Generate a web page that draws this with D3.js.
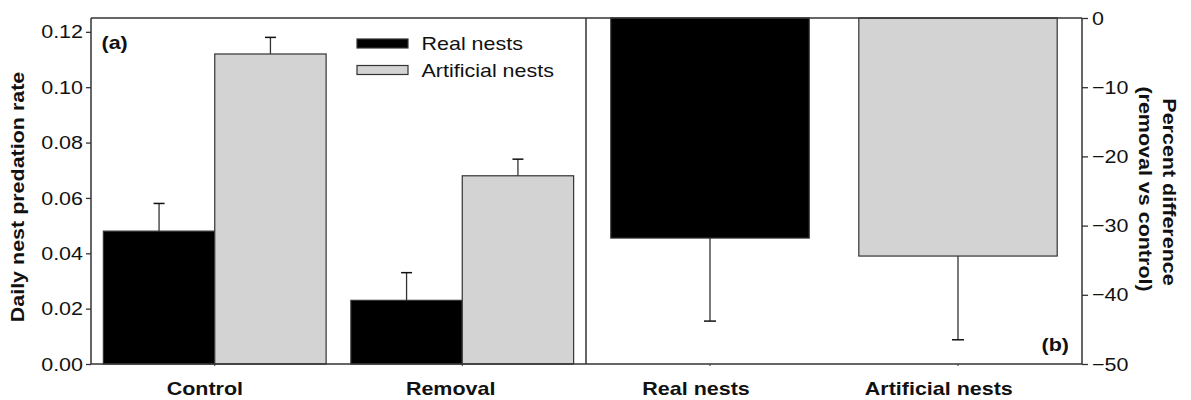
<!DOCTYPE html>
<html>
<head>
<meta charset="utf-8">
<script src="https://cdn.jsdelivr.net/npm/d3@7"></script>
<style>
  body { margin: 0; background: #fff; }
  svg { display: block; font-family: Arial, "Liberation Sans", sans-serif; }
</style>
</head>
<body>
<svg id="chart" width="1191" height="400"></svg>
<script>
// ---- Data ----
const groupsA = ["Control", "Removal"];
const seriesNames = ["Real nests", "Artificial nests"];
const realRate = [0.048, 0.023];
const realRateSE = [0.010, 0.010];
const artRate = [0.112, 0.068];
const artRateSE = [0.006, 0.006];
const yTicksA = [0.00, 0.02, 0.04, 0.06, 0.08, 0.10, 0.12];

const categoriesB = ["Real nests", "Artificial nests"];
const pctDiff = [-31.8, -34.4];
const pctDiffSE = [12.0, 12.1];
const yTicksB = [0, -10, -20, -30, -40, -50];

const colors = ["#000000", "#d3d3d3"];
const strokeCol = "#333";
const FS = 19;          // base font size
const STRETCH = 1.13;   // horizontal widening of glyphs

const svg = d3.select("#chart");
const yTop = 18, yBot = 364;
const leftA = 91, rightA = 586, rightB = 1082;

// ---- Panel (a) ----
const xA = d3.scaleBand().domain(groupsA).range([leftA, rightA]).paddingInner(0.1).paddingOuter(0.05);
const xAin = d3.scaleBand().domain(seriesNames).range([0, xA.bandwidth()]);
const yA = d3.scaleLinear().domain([0, 0.125]).range([yBot, yTop]);

const dataA = [];
groupsA.forEach((g, i) => {
  dataA.push({g, s: seriesNames[0], v: realRate[i], e: realRateSE[i], c: colors[0]});
  dataA.push({g, s: seriesNames[1], v: artRate[i], e: artRateSE[i], c: colors[1]});
});

const gA = svg.append("g");
dataA.forEach(d => {
  const cx = xA(d.g) + xAin(d.s) + xAin.bandwidth() / 2;
  gA.append("line").attr("x1", cx).attr("x2", cx)
    .attr("y1", yA(d.v)).attr("y2", yA(d.v + d.e))
    .attr("stroke", strokeCol).attr("stroke-width", 1.3);
  gA.append("line").attr("x1", cx - 5.5).attr("x2", cx + 5.5)
    .attr("y1", yA(d.v + d.e)).attr("y2", yA(d.v + d.e))
    .attr("stroke", "#111").attr("stroke-width", 1.5);
});
gA.selectAll("rect.bar").data(dataA).join("rect")
  .attr("x", d => xA(d.g) + xAin(d.s))
  .attr("width", xAin.bandwidth())
  .attr("y", d => yA(d.v))
  .attr("height", d => yA(0) - yA(d.v))
  .attr("fill", d => d.c)
  .attr("stroke", strokeCol).attr("stroke-width", 1.2);

// frame
svg.append("line").attr("x1", leftA).attr("x2", rightB).attr("y1", yBot).attr("y2", yBot)
  .attr("stroke", strokeCol).attr("stroke-width", 1.5);
svg.append("line").attr("x1", rightA).attr("x2", rightA).attr("y1", yTop).attr("y2", yBot)
  .attr("stroke", strokeCol).attr("stroke-width", 1.5);

// y axis A
const axA = svg.append("g").attr("transform", `translate(${leftA},0)`)
  .call(d3.axisLeft(yA).tickValues(yTicksA).tickFormat(d3.format(".2f")).tickSize(5).tickPadding(3));
axA.select(".domain").attr("d", `M0,${yTop}V${yBot}`).attr("stroke", strokeCol).attr("stroke-width", 1.5);
axA.selectAll(".tick line").attr("stroke", strokeCol).attr("stroke-width", 1.3);
axA.selectAll(".tick text").attr("font-size", FS).attr("fill", "#111").attr("font-family", "Arial, 'Liberation Sans', sans-serif");

// x axis A labels
const xAxA = svg.append("g").attr("class", "xcat").attr("transform", `translate(0,${yBot})`)
  .call(d3.axisBottom(xA).tickSize(2).tickPadding(15.5));
xAxA.select(".domain").remove();
xAxA.selectAll(".tick line").attr("stroke", strokeCol);
xAxA.selectAll(".tick text").attr("font-size", FS).attr("font-weight", "bold").attr("fill", "#111")
  .attr("font-family", "Arial, 'Liberation Sans', sans-serif");

// y title
svg.append("text").attr("transform", `translate(23.5,197) rotate(-90)`)
  .attr("text-anchor", "middle").attr("font-size", FS).attr("font-weight", "bold").attr("fill", "#111")
  .text("Daily nest predation rate");

svg.append("text").attr("x", 101.5).attr("y", 49).attr("font-size", FS).attr("font-weight", "bold").attr("fill", "#111").text("(a)");

// legend
const leg = svg.append("g");
const legY = [43.5, 70];
const legBase = [50, 76.5];
seriesNames.forEach((s, i) => {
  leg.append("rect").attr("x", 357).attr("y", legY[i] - 4.5).attr("width", 51).attr("height", 9)
    .attr("fill", colors[i]).attr("stroke", strokeCol).attr("stroke-width", 1.2);
  leg.append("text").attr("x", 421.5).attr("y", legBase[i]).attr("font-size", FS).attr("fill", "#111").text(s);
});

// ---- Panel (b) ----
const xB = d3.scaleBand().domain(categoriesB).range([rightA, rightB]).paddingInner(0.2).paddingOuter(0.1);
const yB = d3.scaleLinear().domain([-50, 0]).range([yBot, yTop]);
const gB = svg.append("g");
categoriesB.forEach((c, i) => {
  const cx = xB(c) + xB.bandwidth() / 2;
  gB.append("line").attr("x1", cx).attr("x2", cx)
    .attr("y1", yB(pctDiff[i])).attr("y2", yB(pctDiff[i] - pctDiffSE[i]))
    .attr("stroke", strokeCol).attr("stroke-width", 1.3);
  gB.append("line").attr("x1", cx - 6).attr("x2", cx + 6)
    .attr("y1", yB(pctDiff[i] - pctDiffSE[i])).attr("y2", yB(pctDiff[i] - pctDiffSE[i]))
    .attr("stroke", "#111").attr("stroke-width", 1.5);
});
gB.selectAll("rect.bar").data(categoriesB).join("rect")
  .attr("x", d => xB(d)).attr("width", xB.bandwidth())
  .attr("y", yB(0)).attr("height", (d, i) => yB(pctDiff[i]) - yB(0))
  .attr("fill", (d, i) => colors[i])
  .attr("stroke", strokeCol).attr("stroke-width", 1.2);

// right axis
const axB = svg.append("g").attr("transform", `translate(${rightB},0)`)
  .call(d3.axisRight(yB).tickValues(yTicksB).tickFormat(d3.format("d")).tickSize(6).tickPadding(4));
axB.select(".domain").attr("d", `M0,${yTop}V${yBot}`).attr("stroke", strokeCol).attr("stroke-width", 1.5);
axB.selectAll(".tick line").attr("stroke", strokeCol).attr("stroke-width", 1.3);
axB.selectAll(".tick text").attr("font-size", FS).attr("fill", "#111").attr("font-family", "Arial, 'Liberation Sans', sans-serif");

// top frame line over bars
svg.append("line").attr("x1", leftA).attr("x2", rightB).attr("y1", yTop).attr("y2", yTop)
  .attr("stroke", strokeCol).attr("stroke-width", 1.5);

const xAxB = svg.append("g").attr("class", "xcat").attr("transform", `translate(0,${yBot})`)
  .call(d3.axisBottom(xB).tickSize(2).tickPadding(15.5));
xAxB.select(".domain").remove();
xAxB.selectAll(".tick line").attr("stroke", strokeCol);
xAxB.selectAll(".tick text").attr("font-size", FS).attr("font-weight", "bold").attr("fill", "#111")
  .attr("font-family", "Arial, 'Liberation Sans', sans-serif");

// right title (two lines)
svg.append("text").attr("transform", `translate(1162.5,192) rotate(90)`)
  .attr("text-anchor", "middle").attr("font-size", FS).attr("font-weight", "bold").attr("fill", "#111")
  .text("Percent difference");
svg.append("text").attr("transform", `translate(1139,189) rotate(90)`)
  .attr("text-anchor", "middle").attr("font-size", FS).attr("font-weight", "bold").attr("fill", "#111")
  .text("(removal vs control)");

svg.append("text").attr("x", 1069).attr("y", 351).attr("text-anchor", "end").attr("font-size", FS).attr("font-weight", "bold").attr("fill", "#111").text("(b)");

// widen glyphs to match the reference's wider lettering
svg.selectAll("text").each(function () {
  const L = this.getComputedTextLength();
  this.setAttribute("textLength", (L * STRETCH).toFixed(2));
  this.setAttribute("lengthAdjust", "spacingAndGlyphs");
});
// category labels sit slightly left of the bar-group centre in the reference
svg.selectAll("g.xcat .tick text").each(function () {
  const L = +this.getAttribute("textLength");
  this.setAttribute("text-anchor", "start");
  this.setAttribute("x", (-0.63 * L).toFixed(2));
});
</script>
</body>
</html>
